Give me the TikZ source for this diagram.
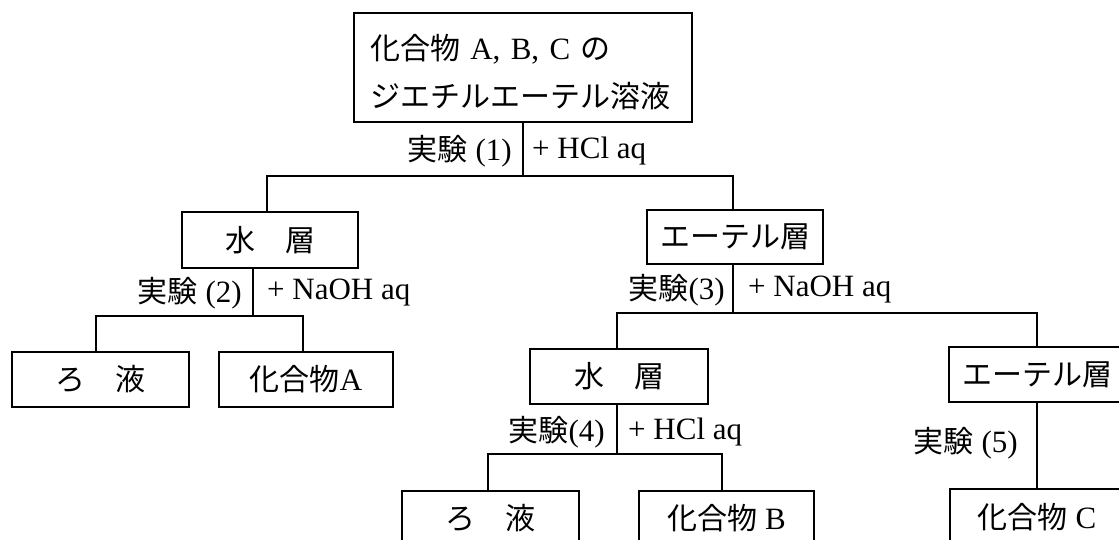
\documentclass[tikz,border=0pt]{standalone}
\usepackage{fontspec}
\setmainfont{Liberation Serif}
\newfontfamily\cjk{Noto Sans CJK JP}
\newcommand\jpn[1]{{\fontsize{30}{36}\selectfont\cjk #1}}
\begin{document}
\begin{tikzpicture}[x=1pt,y=-1pt,
  box/.style={draw, line width=1.8pt, inner sep=0pt, font=\fontsize{31}{36}\selectfont},
  lbl/.style={inner sep=0pt, font=\fontsize{31}{36}\selectfont},
  conn/.style={line width=1.8pt}]
\useasboundingbox (0,0) rectangle (1119,540);
\clip (0,0) rectangle (1119,540);
% nodes
\node[box, minimum width=338pt, minimum height=109pt, text width=306pt, align=left, inner xsep=16pt, font=\fontsize{31}{48}\selectfont] (top) at (523,67.5) {\rule{0pt}{34pt}\jpn{化合物} A, B, C \jpn{の}\\\jpn{ジエチルエーテル溶液}};
\node[box, minimum width=176pt, minimum height=56pt] (w1) at (270,240) {\jpn{水　層}};
\node[box, minimum width=176pt, minimum height=54pt] (e1) at (735,237) {\jpn{エーテル層}};
\node[box, minimum width=177pt, minimum height=55pt] (r1) at (100.5,379.5) {\jpn{ろ　液}};
\node[box, minimum width=174pt, minimum height=55pt] (a) at (306,379.5) {\jpn{化合物}A};
\node[box, minimum width=178pt, minimum height=55pt] (w2) at (619,376.5) {\jpn{水　層}};
\node[box, minimum width=176pt, minimum height=55pt] (e2) at (1037,374.5) {\jpn{エーテル層}};
\node[box, minimum width=177pt, minimum height=55pt] (r2) at (490.5,518.5) {\jpn{ろ　液}};
\node[box, minimum width=175pt, minimum height=55pt] (b) at (726.5,518.5) {\jpn{化合物} B};
\node[box, minimum width=174pt, minimum height=57pt] (c) at (1037,517.5) {\jpn{化合物} C};
% labels
\node[lbl, anchor=east] (l1a) at (512,151) {\jpn{実験} (1)};
\node[lbl, anchor=west] (l1b) at (532,151) {+ HCl aq};
\node[lbl, anchor=east] (l2a) at (242,293) {\jpn{実験} (2)};
\node[lbl, anchor=west] (l2b) at (267,293) {+ NaOH aq};
\node[lbl, anchor=east] (l3a) at (725,290) {\jpn{実験}(3)};
\node[lbl, anchor=west] (l3b) at (748,290) {+ NaOH aq};
\node[lbl, anchor=east] (l4a) at (605,432) {\jpn{実験}(4)};
\node[lbl, anchor=west] (l4b) at (628,432) {+ HCl aq};
\node[lbl, anchor=east] (l5a) at (1018,443) {\jpn{実験} (5)};
% junctions
\coordinate (j1) at (523,176); \coordinate (j1l) at (267,176); \coordinate (j1r) at (733,176);
\coordinate (j2) at (253,316); \coordinate (j2l) at (96,316); \coordinate (j2r) at (303,316);
\coordinate (j3) at (733,313); \coordinate (j3l) at (617,313); \coordinate (j3r) at (1037,313);
\coordinate (j4) at (617,454); \coordinate (j4l) at (488,454); \coordinate (j4r) at (722,454);
% connectors
\draw[conn] (top.south) -- (j1);
\draw[conn] (j1l |- w1.north) -- (j1l) -- (j1r) -- (j1r |- e1.north);
\draw[conn] (w1.south -| j2) -- (j2);
\draw[conn] (j2l |- r1.north) -- (j2l) -- (j2r) -- (j2r |- a.north);
\draw[conn] (e1.south -| j3) -- (j3);
\draw[conn] (j3l |- w2.north) -- (j3l) -- (j3r) -- (j3r |- e2.north);
\draw[conn] (w2.south -| j4) -- (j4);
\draw[conn] (j4l |- r2.north) -- (j4l) -- (j4r) -- (j4r |- b.north);
\draw[conn] (e2.south) -- (c.north);
\end{tikzpicture}
\end{document}
